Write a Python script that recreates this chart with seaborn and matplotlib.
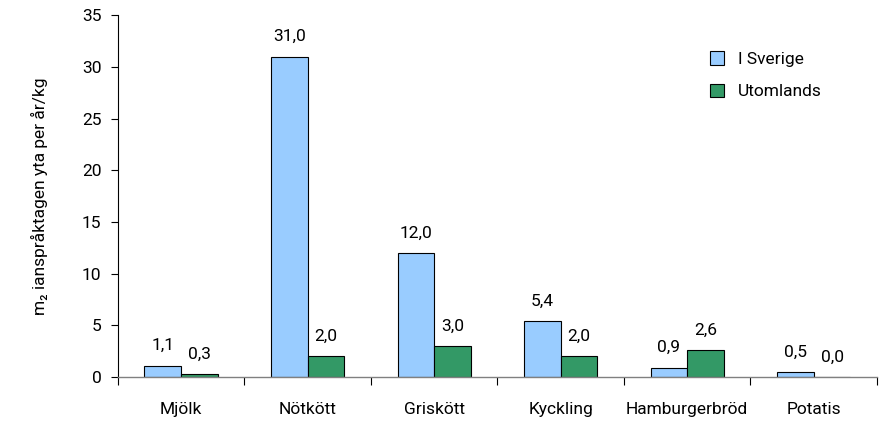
import pandas as pd
import matplotlib.pyplot as plt
import seaborn as sns

sns.set_theme(style="white")
plt.rcParams["font.family"] = ["Roboto", "DejaVu Sans"]
plt.rcParams["text.color"] = "black"
plt.rcParams["axes.labelcolor"] = "black"
plt.rcParams["xtick.color"] = "black"
plt.rcParams["ytick.color"] = "black"

# Chart data
categories = ["Mjölk", "Nötkött", "Griskött", "Kyckling", "Hamburgerbröd", "Potatis"]
sverige = [1.1, 31.0, 12.0, 5.4, 0.9, 0.5]
utomlands = [0.3, 2.0, 3.0, 2.0, 2.6, 0.0]
series = ["I Sverige", "Utomlands"]
colors = ["#99CCFF", "#339966"]

df = pd.DataFrame({
    "Produkt": categories * 2,
    "Serie": [series[0]] * len(categories) + [series[1]] * len(categories),
    "Värde": sverige + utomlands,
})

fig = plt.figure(figsize=(8.8, 4.21), dpi=100)
ax = fig.add_axes([0.134, 0.1045, 0.8626, 0.8595])

sns.barplot(data=df, x="Produkt", y="Värde", hue="Serie", hue_order=series,
            palette=colors, width=0.58, edgecolor="black", linewidth=0.8,
            saturation=1, ax=ax)

for cont, vals in zip(ax.containers, [sverige, utomlands]):
    ax.bar_label(cont, labels=[f"{v:.1f}".replace(".", ",") for v in vals],
                 padding=9, fontsize=12.5)

ax.set_ylim(0, 35)
ax.set_yticks(range(0, 36, 5))
ax.set_xlim(-0.5, len(categories) - 0.5)
ax.set_xticks([i - 0.5 for i in range(len(categories) + 1)])
ax.set_xticklabels([""] * (len(categories) + 1))
ax.set_xticks(range(len(categories)), minor=True)
ax.set_xticklabels(categories, minor=True)
ax.tick_params(axis="x", which="major", bottom=True, direction="out", length=6, width=0.8)
ax.tick_params(axis="x", which="minor", bottom=False, pad=14, labelsize=12.5)
ax.tick_params(axis="y", left=True, direction="out", length=5, width=0.8, labelsize=12.5, pad=7)

ax.set_xlabel("")
ax.set_ylabel("m₂ ianspråktagen yta per år/kg", fontsize=12.5, labelpad=24)

for side in ["top", "right"]:
    ax.spines[side].set_visible(False)
ax.spines["left"].set_color("black")
ax.spines["left"].set_linewidth(0.8)
ax.spines["bottom"].set_color("#808080")
ax.spines["bottom"].set_linewidth(1.0)

ax.legend(title=None, frameon=False, loc="upper left", bbox_to_anchor=(0.78, 0.90),
          borderaxespad=0, borderpad=0,
          fontsize=12.5, handlelength=0.8, handleheight=0.8, handletextpad=0.8,
          labelspacing=0.95)

fig.savefig("out.png", dpi=100)
